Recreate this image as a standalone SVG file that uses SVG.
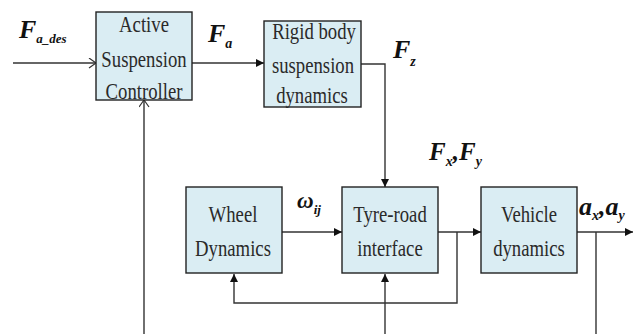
<svg xmlns="http://www.w3.org/2000/svg" width="634" height="334" viewBox="0 0 634 334">
<style>
.box{fill:#daedf3;stroke:#222;stroke-width:1.4}
.ln{fill:none;stroke:#333;stroke-width:1.4}
.t{font-family:"Liberation Serif","Times New Roman",serif;font-size:24px;fill:#2a2a2a;text-anchor:middle}
.m{font-family:"Liberation Serif","Times New Roman",serif;font-weight:bold;font-style:italic;fill:#111}
</style>
<defs>
<marker id="fa" markerWidth="10" markerHeight="10" refX="8" refY="4" orient="auto" markerUnits="userSpaceOnUse">
<path d="M0,0 L8,4 L0,8 Z" fill="#111"/>
</marker>
<marker id="oa" markerWidth="12" markerHeight="12" refX="8" refY="5" orient="auto" markerUnits="userSpaceOnUse">
<path d="M1,0 L8,5 L1,10" fill="none" stroke="#333" stroke-width="1.2"/>
</marker>
</defs>
<rect width="634" height="334" fill="#fff"/>
<g id="connectors">
<line class="ln" x1="13" y1="63" x2="96" y2="63" marker-end="url(#oa)"/>
<line class="ln" x1="144" y1="334" x2="144" y2="100" marker-end="url(#oa)"/>
<line class="ln" x1="192" y1="63" x2="264" y2="63" marker-end="url(#fa)"/>
<polyline class="ln" points="361,64 385,64 385,187" marker-end="url(#fa)"/>
<line class="ln" x1="282" y1="232" x2="342" y2="232" marker-end="url(#fa)"/>
<line class="ln" x1="438" y1="232" x2="481" y2="232" marker-end="url(#fa)"/>
<polyline class="ln" points="457,232 457,303 234,303 234,274" marker-end="url(#fa)"/>
<line class="ln" x1="385" y1="334" x2="385" y2="274" marker-end="url(#fa)"/>
<line class="ln" x1="577" y1="232" x2="633" y2="232" marker-end="url(#fa)"/>
<line class="ln" x1="596" y1="232" x2="596" y2="334"/>
</g>
<g id="controller">
<rect class="box" x="96" y="12" width="96" height="88"/>
<text class="t" transform="translate(144,32) scale(0.78,1)">Active</text>
<text class="t" transform="translate(144,67) scale(0.78,1)">Suspension</text>
<text class="t" transform="translate(144,99) scale(0.78,1)">Controller</text>
</g>
<g id="rigid">
<rect class="box" x="264" y="21" width="97" height="86"/>
<text class="t" transform="translate(314,39) scale(0.78,1)">Rigid body</text>
<text class="t" transform="translate(313,73) scale(0.78,1)">suspension</text>
<text class="t" transform="translate(312,103) scale(0.78,1)">dynamics</text>
</g>
<g id="wheel">
<rect class="box" x="186" y="187" width="96" height="86"/>
<text class="t" transform="translate(233,222) scale(0.78,1)">Wheel</text>
<text class="t" transform="translate(233,256) scale(0.78,1)">Dynamics</text>
</g>
<g id="tyre">
<rect class="box" x="342" y="187" width="96" height="86"/>
<text class="t" transform="translate(390,222) scale(0.78,1)">Tyre-road</text>
<text class="t" transform="translate(390,256) scale(0.78,1)">interface</text>
</g>
<g id="vehicle">
<rect class="box" x="481" y="187" width="96" height="86"/>
<text class="t" transform="translate(529,222) scale(0.78,1)">Vehicle</text>
<text class="t" transform="translate(529,256) scale(0.78,1)">dynamics</text>
</g>
<g id="labels">
<text class="m" x="19" y="38" font-size="26">F<tspan font-size="13" dy="5">a_des</tspan></text>
<text class="m" x="208" y="42" font-size="26">F<tspan font-size="14" dy="6">a</tspan></text>
<text class="m" x="393" y="58" font-size="26">F<tspan font-size="14" dy="8">z</tspan></text>
<text class="m" x="429" y="160" font-size="25">F<tspan font-size="14" dy="6">x</tspan><tspan dy="-6">,F</tspan><tspan font-size="14" dy="6">y</tspan></text>
<text class="m" x="297" y="208" font-size="23">ω<tspan font-size="13" dy="6">ij</tspan></text>
<text class="m" x="579" y="215" font-size="26">a<tspan font-size="14" dy="5">x</tspan><tspan dy="-5">,a</tspan><tspan font-size="14" dy="5">y</tspan></text>
</g>
</svg>
